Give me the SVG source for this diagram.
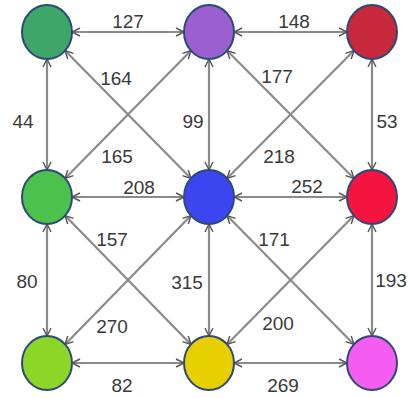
<svg xmlns="http://www.w3.org/2000/svg" width="409" height="398" viewBox="0 0 409 398">
  <style>
    .edge { stroke: #8a8a8a; stroke-width: 2.2; fill: none; marker-start: url(#tip); marker-end: url(#tip); }
    .node { stroke: #2c4a78; stroke-width: 2; }
    .lbl { font-family: "Liberation Sans", Arial, sans-serif; font-size: 19px; fill: #3a3a3a; text-anchor: middle; }
  </style>
  <defs>
    <marker id="tip" viewBox="0 0 10 10" refX="9" refY="5" markerWidth="10" markerHeight="10" markerUnits="userSpaceOnUse" orient="auto-start-reverse">
      <path d="M1,1 L9,5 L1,9" fill="none" stroke="#555" stroke-width="1.4"/>
    </marker>
  </defs>
  <rect width="409" height="398" fill="#ffffff"/>

  <g id="connectors">
    <!-- horizontal -->
    <line class="edge" x1="72" y1="32" x2="184" y2="32"/>
    <line class="edge" x1="234" y1="32" x2="347" y2="32"/>
    <line class="edge" x1="72" y1="197" x2="184" y2="197"/>
    <line class="edge" x1="234" y1="197" x2="347" y2="197"/>
    <line class="edge" x1="72" y1="363" x2="184" y2="363"/>
    <line class="edge" x1="234" y1="363" x2="347" y2="363"/>
    <!-- vertical -->
    <line class="edge" x1="47" y1="59" x2="47" y2="170"/>
    <line class="edge" x1="209" y1="59" x2="209" y2="170"/>
    <line class="edge" x1="372" y1="59" x2="372" y2="170"/>
    <line class="edge" x1="47" y1="224" x2="47" y2="336"/>
    <line class="edge" x1="209" y1="224" x2="209" y2="336"/>
    <line class="edge" x1="372" y1="224" x2="372" y2="336"/>
    <!-- diagonals -->
    <line class="edge" x1="65" y1="50.5" x2="191" y2="178.5"/>
    <line class="edge" x1="191" y1="50.5" x2="65" y2="178.5"/>
    <line class="edge" x1="227" y1="50.5" x2="354" y2="178.5"/>
    <line class="edge" x1="354" y1="50.5" x2="227" y2="178.5"/>
    <line class="edge" x1="65" y1="215.5" x2="191" y2="344.5"/>
    <line class="edge" x1="191" y1="215.5" x2="65" y2="344.5"/>
    <line class="edge" x1="227" y1="215.5" x2="354" y2="344.5"/>
    <line class="edge" x1="354" y1="215.5" x2="227" y2="344.5"/>
  </g>

  <g id="labels">
    <text class="lbl" x="128" y="28">127</text>
    <text class="lbl" x="294" y="28">148</text>
    <text class="lbl" x="116" y="85">164</text>
    <text class="lbl" x="277" y="83">177</text>
    <text class="lbl" x="23" y="128">44</text>
    <text class="lbl" x="193" y="128">99</text>
    <text class="lbl" x="387" y="128">53</text>
    <text class="lbl" x="117" y="163">165</text>
    <text class="lbl" x="279" y="163">218</text>
    <text class="lbl" x="139" y="194">208</text>
    <text class="lbl" x="307" y="193">252</text>
    <text class="lbl" x="112" y="246">157</text>
    <text class="lbl" x="274" y="246">171</text>
    <text class="lbl" x="27" y="288">80</text>
    <text class="lbl" x="187" y="289">315</text>
    <text class="lbl" x="391" y="287">193</text>
    <text class="lbl" x="112" y="333">270</text>
    <text class="lbl" x="278" y="330">200</text>
    <text class="lbl" x="122" y="392">82</text>
    <text class="lbl" x="283" y="392">269</text>
  </g>

  <g id="n1"><ellipse class="node" cx="47" cy="32" rx="25" ry="27" fill="#3fa66a"/></g>
  <g id="n2"><ellipse class="node" cx="209" cy="32" rx="25" ry="27" fill="#9b5fd0"/></g>
  <g id="n3"><ellipse class="node" cx="372" cy="32" rx="25" ry="27" fill="#c8283c"/></g>
  <g id="n4"><ellipse class="node" cx="47" cy="197" rx="25" ry="27" fill="#4cc24c"/></g>
  <g id="n5"><ellipse class="node" cx="209" cy="197" rx="25" ry="27" fill="#3c46f0"/></g>
  <g id="n6"><ellipse class="node" cx="372" cy="197" rx="25" ry="27" fill="#f5143f"/></g>
  <g id="n7"><ellipse class="node" cx="47" cy="363" rx="25" ry="27" fill="#8cd628"/></g>
  <g id="n8"><ellipse class="node" cx="209" cy="363" rx="25" ry="27" fill="#e8cf00"/></g>
  <g id="n9"><ellipse class="node" cx="372" cy="363" rx="25" ry="27" fill="#f55cf0"/></g>
</svg>
